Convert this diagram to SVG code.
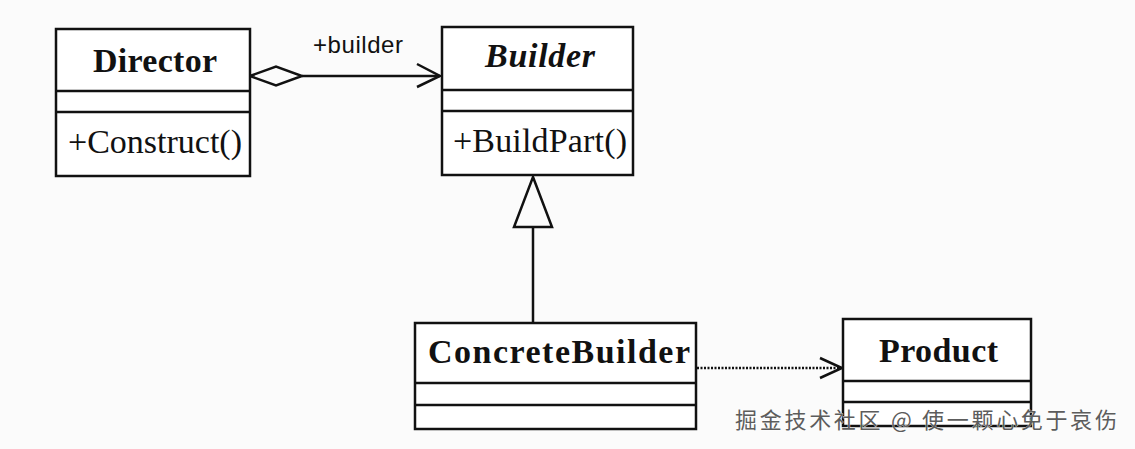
<svg xmlns="http://www.w3.org/2000/svg" width="1135" height="449" viewBox="0 0 1135 449">
<style>
.box{fill:#fff;stroke:#111;stroke-width:2.5}
.div{stroke:#111;stroke-width:2.5}
.name{font-family:"Liberation Serif",serif;font-weight:bold;font-size:34px;fill:#111}
.op{font-family:"Liberation Serif",serif;font-size:34px;fill:#111}
.lbl{font-family:"Liberation Sans",Arial,sans-serif;font-size:24px;fill:#111}
.edge{fill:none;stroke:#111;stroke-width:2.5}
.wm{font-family:"Noto Sans CJK SC",sans-serif;font-size:22px;fill:#5c5c5c;stroke:#fff;stroke-width:0.6;paint-order:stroke}
</style>
<rect x="0" y="0" width="1135" height="449" fill="#fbfbfb"/>
<g id="connectors">
  <g id="aggregation">
    <line class="edge" x1="302" y1="76" x2="440" y2="76"/>
    <polygon class="edge" points="250,76 276,66.5 302,76 276,85.5" fill="#fff"/>
    <polyline class="edge" points="417,64 440,76 417,87"/>
    <text class="lbl" x="313" y="53" textLength="90">+builder</text>
  </g>
  <g id="generalization">
    <line class="edge" x1="533" y1="227" x2="533" y2="323"/>
    <polygon class="edge" points="533,177 552,227 514,227" fill="#fff"/>
  </g>
  <g id="dependency">
    <line x1="697" y1="368" x2="841" y2="368" stroke="#111" stroke-width="2.5" stroke-dasharray="2,1.5"/>
    <polyline class="edge" points="820,358 842,368 820,378"/>
  </g>
</g>
<g id="director">
  <rect class="box" x="56" y="29" width="194" height="147"/>
  <line class="div" x1="56" y1="91" x2="250" y2="91"/>
  <line class="div" x1="56" y1="112" x2="250" y2="112"/>
  <text class="name" x="93" y="72" textLength="124">Director</text>
  <text class="op" x="68" y="153" textLength="174">+Construct()</text>
</g>
<g id="builder">
  <rect class="box" x="442" y="27" width="191" height="148"/>
  <line class="div" x1="442" y1="90" x2="633" y2="90"/>
  <line class="div" x1="442" y1="111" x2="633" y2="111"/>
  <text class="name" x="485" y="67" font-style="italic" textLength="110">Builder</text>
  <text class="op" x="453" y="152" textLength="174">+BuildPart()</text>
</g>
<g id="concretebuilder">
  <rect class="box" x="415" y="323" width="281" height="106"/>
  <line class="div" x1="415" y1="383" x2="696" y2="383"/>
  <line class="div" x1="415" y1="405" x2="696" y2="405"/>
  <text class="name" x="428" y="363" textLength="262">ConcreteBuilder</text>
</g>
<g id="product">
  <rect class="box" x="843" y="319" width="188" height="107"/>
  <line class="div" x1="843" y1="381" x2="1031" y2="381"/>
  <line class="div" x1="843" y1="402" x2="1031" y2="402"/>
  <text class="name" x="879" y="362" textLength="119">Product</text>
</g>
<text class="wm" x="735" y="428" textLength="382">掘金技术社区 @ 使一颗心免于哀伤</text>
</svg>
